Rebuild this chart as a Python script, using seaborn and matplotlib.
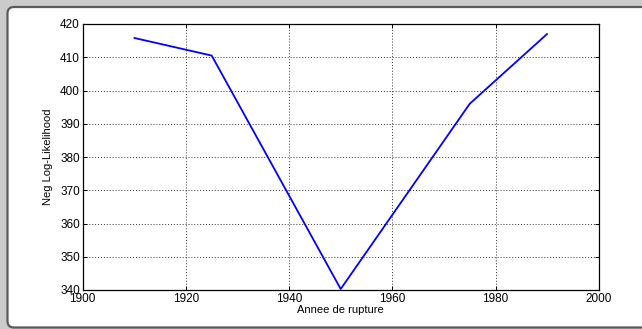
import matplotlib
matplotlib.use("Agg")
import matplotlib.pyplot as plt
from matplotlib.patches import FancyBboxPatch
import seaborn as sns
import pandas as pd

years = [1910, 1925, 1950, 1975, 1990]
nll = [415.8, 410.5, 340.3, 396.0, 417.0]
xticks = [1900, 1920, 1940, 1960, 1980, 2000]
yticks = [340, 350, 360, 370, 380, 390, 400, 410, 420]

sns.set_theme(style="white")
plt.rcParams['font.family'] = ['Liberation Sans', 'DejaVu Sans']

fig = plt.figure(figsize=(6.42, 3.29), dpi=100)
fig.patch.set_facecolor('#cbcbcb')
panel = FancyBboxPatch((7.5 / 642, 1.5 / 329), 700 / 642, 320.5 / 329,
                       boxstyle="round,pad=0,rounding_size=0.01",
                       transform=fig.transFigure, facecolor='white',
                       edgecolor='#5a5a5a', linewidth=1.6, zorder=-10,
                       mutation_aspect=642 / 329)
fig.patches.append(panel)

ax = fig.add_axes([82.7 / 642, 1 - 290 / 329, (598.7 - 82.7) / 642, (290 - 24) / 329])
df = pd.DataFrame({"year": years, "nll": nll})
sns.lineplot(data=df, x="year", y="nll", ax=ax, color='#0000ff', linewidth=1.3)

ax.set_xlim(1900, 2000)
ax.set_ylim(340, 420)
ax.set_xticks(xticks)
ax.set_yticks(yticks)
ax.set_xticklabels([str(t) for t in xticks], fontsize=8.5)
ax.set_yticklabels([str(t) for t in yticks], fontsize=8.5)
ax.tick_params(direction='in', length=3, width=0.7, color='black', top=True, right=True,
               bottom=True, left=True, pad=2, labelcolor='black')
ax.grid(True, linestyle=(0, (1, 2)), color='#333333', linewidth=0.7)
for s in ax.spines.values():
    s.set_color('black')
    s.set_linewidth(0.9)
ax.set_xlabel("Annee de rupture", fontsize=8, labelpad=0, color='black')
ax.set_ylabel("Neg Log-Likelihood", fontsize=8, labelpad=5, color='black')

fig.savefig("out.png", dpi=100, facecolor=fig.get_facecolor())
